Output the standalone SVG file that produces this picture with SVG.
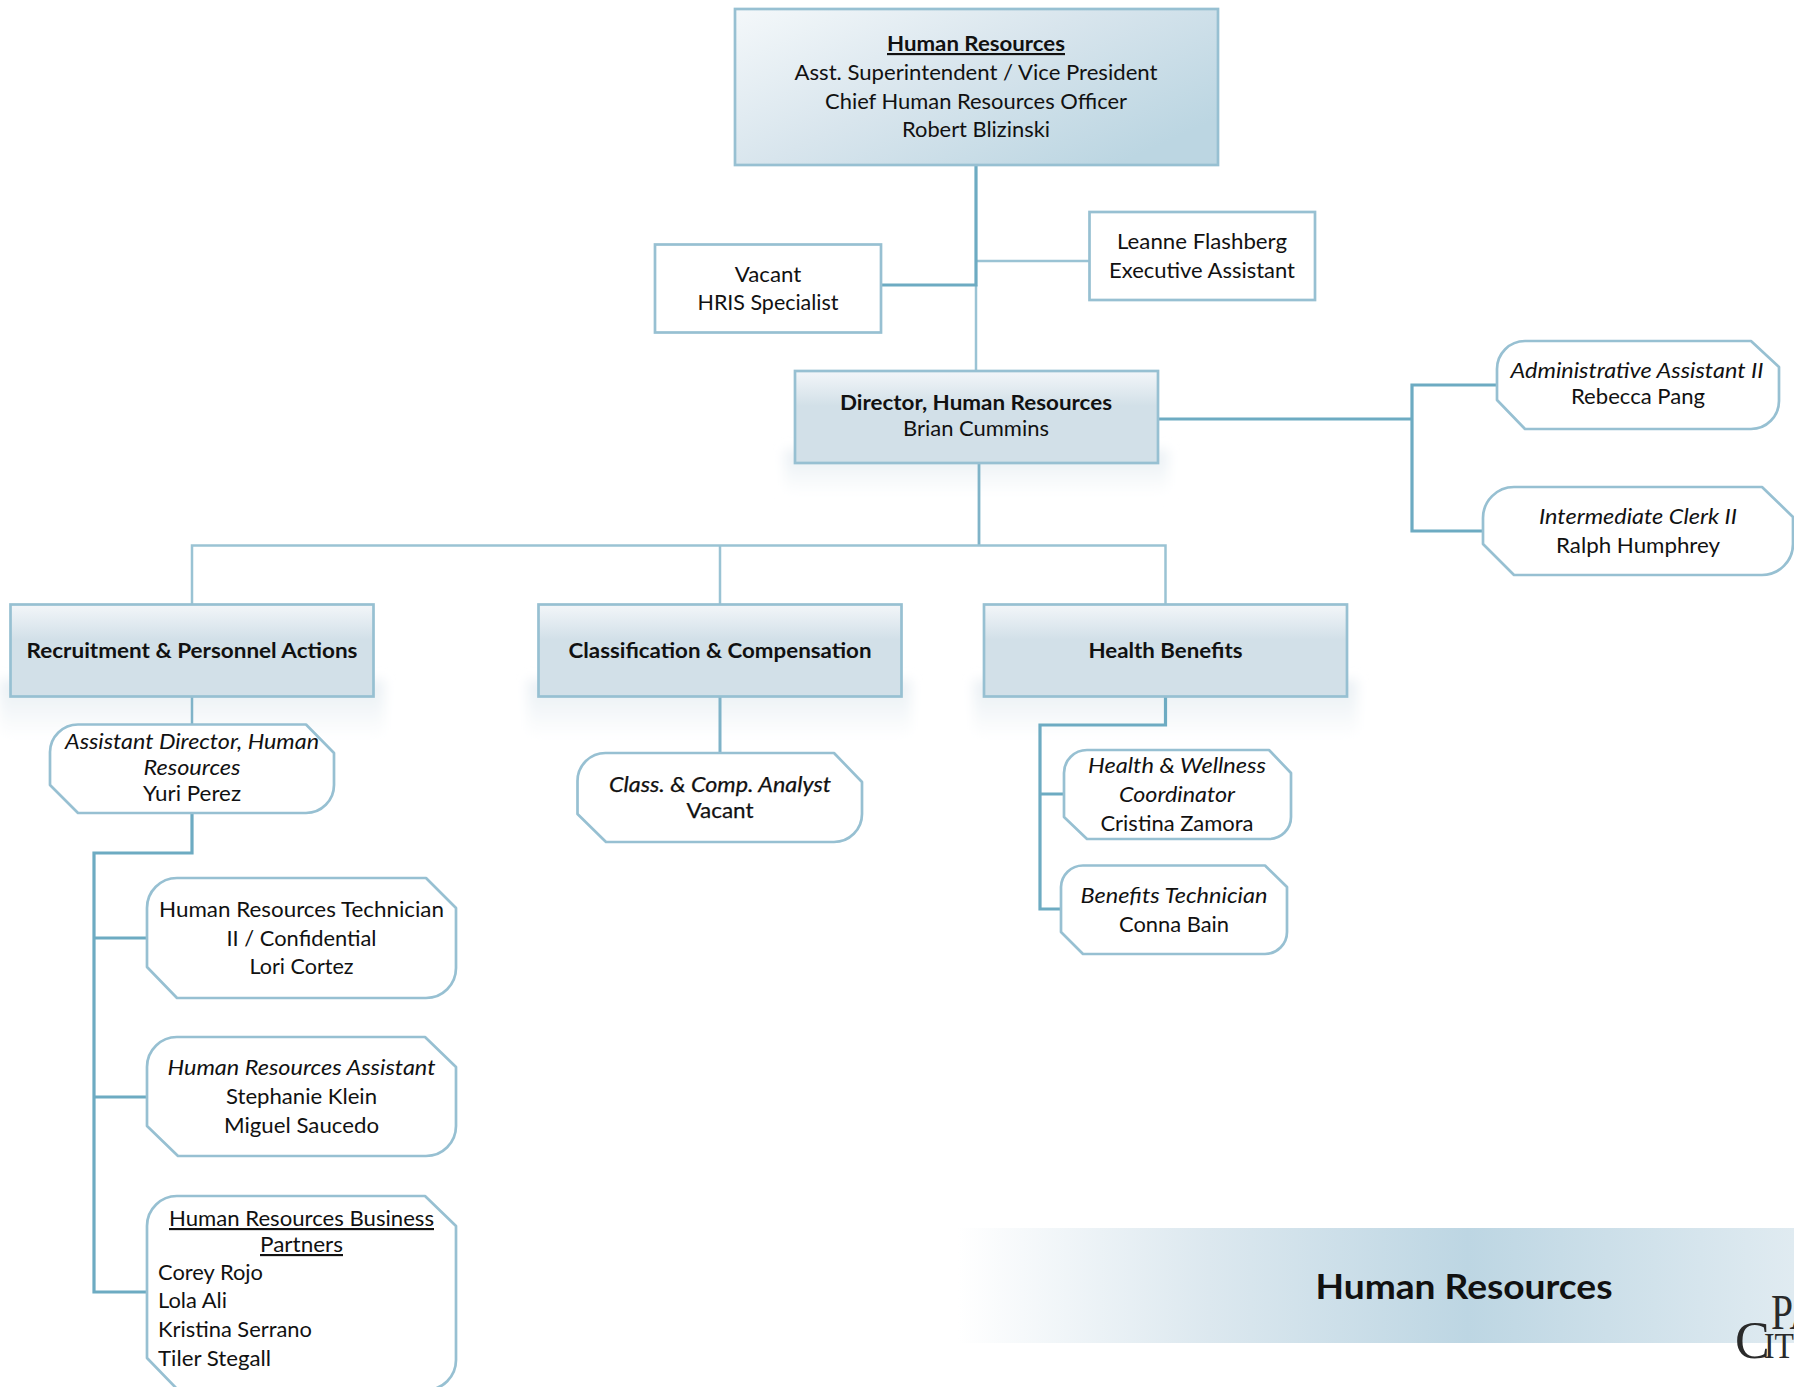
<svg xmlns="http://www.w3.org/2000/svg" width="1794" height="1387" viewBox="0 0 1794 1387">
<style>
text{font-family:"Lato","Carlito","Liberation Sans",sans-serif;font-size:21.5px;fill:#111;text-anchor:middle}
.b{font-weight:700}
.i{font-style:italic}
.u{text-decoration:underline}
.l{text-anchor:start}
.box{stroke:#97c0d2;stroke-width:2.7}
.plain{fill:#fff}
.node{fill:#fff;stroke:#97c0d2;stroke-width:2.7;stroke-linejoin:round}
.thin{stroke:#9ac3d4;stroke-width:2.5;fill:none}
.thick{stroke:#6dabc2;stroke-width:3.2;fill:none;stroke-linejoin:miter}
</style>
<defs>
<linearGradient id="gTop" x1="0" y1="0" x2="1" y2="0.7"><stop offset="0" stop-color="#f4f8fa"/><stop offset="0.5" stop-color="#d8e5ed"/><stop offset="1" stop-color="#bcd6e2"/></linearGradient>
<linearGradient id="gHead" x1="0" y1="0" x2="0" y2="1"><stop offset="0" stop-color="#f3f6f9"/><stop offset="0.38" stop-color="#d2e0e8"/><stop offset="1" stop-color="#d2e0e8"/></linearGradient>
<linearGradient id="gShadow" x1="0" y1="0" x2="0" y2="1"><stop offset="0" stop-color="#e9eff4"/><stop offset="0.3" stop-color="#eef3f6"/><stop offset="1" stop-color="#ffffff"/></linearGradient>
<linearGradient id="gBand" x1="958" y1="0" x2="1794" y2="0" gradientUnits="userSpaceOnUse"><stop offset="0" stop-color="#ffffff"/><stop offset="0.3" stop-color="#dce8ef"/><stop offset="0.61" stop-color="#bdd6e3"/><stop offset="1" stop-color="#e0ebf1"/></linearGradient>
<filter id="soft" x="-10%" y="-30%" width="120%" height="160%"><feGaussianBlur stdDeviation="6"/></filter>
</defs>

<g id="shadows" filter="url(#soft)">
<rect x="0" y="680" width="384" height="58" fill="url(#gShadow)"/>
<rect x="528" y="680" width="383" height="58" fill="url(#gShadow)"/>
<rect x="974" y="680" width="383" height="58" fill="url(#gShadow)"/>
<rect x="785" y="450" width="383" height="44" fill="url(#gShadow)"/>
</g>

<g id="banner">
<rect x="958" y="1228" width="836" height="115" fill="url(#gBand)"/>
<text class="b" x="1464" y="1299" style="font-size:34px" textLength="297" lengthAdjust="spacingAndGlyphs">Human Resources</text>
</g>
<g id="logo">
<text class="l" x="1771" y="1329" style="font-family:'Liberation Serif',serif;font-size:50px;fill:#2a2a2a" textLength="47" lengthAdjust="spacingAndGlyphs">PA</text>
<text class="l" x="1735" y="1358" style="font-family:'Liberation Serif',serif;font-size:52px;fill:#2a2a2a">C</text>
<text class="l" x="1764" y="1358" style="font-family:'Liberation Serif',serif;font-size:36px;fill:#2a2a2a" textLength="30" lengthAdjust="spacingAndGlyphs">IT</text>
</g>

<g id="connectors">
<path class="thin" d="M976 285V371"/>
<path class="thin" d="M976 261H1090"/>
<path class="thick" d="M976 165V285H881"/>
<path class="thick" d="M1158 419H1412M1497 385H1412V531H1483"/>
<path class="thick" style="stroke-width:2.800;stroke:#7fb3c8" d="M979 463V545"/>
<path class="thin" d="M192 604V545.500H1165.500V604M720 545.500V604"/>
<path class="thin" style="stroke:#7fb3c8" d="M192 696V724"/>
<path class="thin" style="stroke:#7fb3c8;stroke-width:3" d="M720 697V752"/>
<path class="thick" d="M1165.500 697V725H1040V909H1061M1040 794H1064"/>
<path class="thick" d="M192 813V853H94V1292H147M94 938H147M94 1097H147"/>
</g>

<g id="n-top">
<rect class="box" x="735" y="9" width="483" height="156" fill="url(#gTop)"/>
<text class="b u" x="976" y="51" textLength="178" lengthAdjust="spacingAndGlyphs">Human Resources</text>
<text x="976" y="80" textLength="363" lengthAdjust="spacingAndGlyphs">Asst. Superintendent / Vice President</text>
<text x="976" y="109" textLength="302" lengthAdjust="spacingAndGlyphs">Chief Human Resources Officer</text>
<text x="976" y="137" textLength="148" lengthAdjust="spacingAndGlyphs">Robert Blizinski</text>
</g>
<g id="n-leanne">
<rect class="box plain" x="1089.500" y="212" width="225.500" height="88"/>
<text x="1202" y="249" textLength="170" lengthAdjust="spacingAndGlyphs">Leanne Flashberg</text>
<text x="1202" y="278" textLength="186" lengthAdjust="spacingAndGlyphs">Executive Assistant</text>
</g>
<g id="n-vacant">
<rect class="box plain" x="655" y="244.500" width="226" height="88"/>
<text x="768" y="282" textLength="66.500" lengthAdjust="spacingAndGlyphs">Vacant</text>
<text x="768" y="310" textLength="141" lengthAdjust="spacingAndGlyphs">HRIS Specialist</text>
</g>
<g id="n-director">
<rect class="box" x="795" y="371" width="363" height="92" fill="url(#gHead)"/>
<text class="b" x="976" y="410" textLength="272" lengthAdjust="spacingAndGlyphs">Director, Human Resources</text>
<text x="976" y="436" textLength="146" lengthAdjust="spacingAndGlyphs">Brian Cummins</text>
</g>
<g id="n-admin">
<path class="node" d="M1525 341H1751L1779 367V401A28 28 0 0 1 1751 429H1525L1497 400V369A28 28 0 0 1 1525 341Z"/>
<text class="i" x="1637" y="378" textLength="253" lengthAdjust="spacingAndGlyphs">Administrative Assistant II</text>
<text x="1638" y="404" textLength="134" lengthAdjust="spacingAndGlyphs">Rebecca Pang</text>
</g>
<g id="n-clerk">
<path class="node" d="M1514 487H1762L1793 517V544A31 31 0 0 1 1762 575H1514L1483 544V518A31 31 0 0 1 1514 487Z"/>
<text class="i" x="1638" y="524" textLength="198" lengthAdjust="spacingAndGlyphs">Intermediate Clerk II</text>
<text x="1638" y="553" textLength="164" lengthAdjust="spacingAndGlyphs">Ralph Humphrey</text>
</g>
<g id="n-recruit">
<rect class="box" x="10.500" y="604.500" width="363" height="92" fill="url(#gHead)"/>
<text class="b" x="192" y="658" textLength="331" lengthAdjust="spacingAndGlyphs">Recruitment &amp; Personnel Actions</text>
</g>
<g id="n-class">
<rect class="box" x="538.500" y="604.500" width="363" height="92" fill="url(#gHead)"/>
<text class="b" x="720" y="658" textLength="303" lengthAdjust="spacingAndGlyphs">Classification &amp; Compensation</text>
</g>
<g id="n-health">
<rect class="box" x="984" y="604.500" width="363" height="92" fill="url(#gHead)"/>
<text class="b" x="1165.500" y="658" textLength="154" lengthAdjust="spacingAndGlyphs">Health Benefits</text>
</g>
<g id="n-asst">
<path class="node" d="M78 724.500H306L334 753V785A28 28 0 0 1 306 813H78L50 785V752A28 28 0 0 1 78 724.500Z"/>
<text class="i" x="192" y="749" textLength="254" lengthAdjust="spacingAndGlyphs">Assistant Director, Human</text>
<text class="i" x="192" y="775" textLength="97" lengthAdjust="spacingAndGlyphs">Resources</text>
<text x="192" y="801" textLength="98" lengthAdjust="spacingAndGlyphs">Yuri Perez</text>
</g>
<g id="n-analyst">
<path class="node" d="M606 753H834L862 782V814A28 28 0 0 1 834 842H606L577.500 814V781A28 28 0 0 1 606 753Z"/>
<text class="i b" x="720" y="792" textLength="222" lengthAdjust="spacingAndGlyphs" style="font-weight:400;stroke:#111;stroke-width:.25">Class. &amp; Comp. Analyst</text>
<text x="720" y="818" textLength="67" lengthAdjust="spacingAndGlyphs" style="stroke:#111;stroke-width:.25">Vacant</text>
</g>
<g id="n-wellness">
<path class="node" d="M1087 750H1269L1291 773V817A22 22 0 0 1 1269 839H1087L1064 817V773A23 23 0 0 1 1087 750Z"/>
<text class="i" x="1177" y="773" textLength="178" lengthAdjust="spacingAndGlyphs">Health &amp; Wellness</text>
<text class="i" x="1177" y="802" textLength="116" lengthAdjust="spacingAndGlyphs">Coordinator</text>
<text x="1177" y="831" textLength="153" lengthAdjust="spacingAndGlyphs">Cristina Zamora</text>
</g>
<g id="n-benefits">
<path class="node" d="M1083 865.500H1265L1287 887V932A22 22 0 0 1 1265 954H1083L1061 932V887A22 22 0 0 1 1083 865.500Z"/>
<text class="i" x="1174" y="903" textLength="187" lengthAdjust="spacingAndGlyphs">Benefits Technician</text>
<text x="1174" y="932" textLength="110" lengthAdjust="spacingAndGlyphs">Conna Bain</text>
</g>
<g id="n-tech">
<path class="node" d="M177 878H426L456 908V968A30 30 0 0 1 426 998H177L147 967V908A30 30 0 0 1 177 878Z"/>
<text x="301.500" y="917" textLength="285" lengthAdjust="spacingAndGlyphs">Human Resources Technician</text>
<text x="301.500" y="946" textLength="150" lengthAdjust="spacingAndGlyphs">II / Confidential</text>
<text x="301.500" y="974" textLength="104" lengthAdjust="spacingAndGlyphs">Lori Cortez</text>
</g>
<g id="n-hra">
<path class="node" d="M178 1037H425L456 1067V1126A30 30 0 0 1 426 1156H178L147 1126V1067A30 30 0 0 1 178 1037Z"/>
<text class="i" x="301.500" y="1075" textLength="268" lengthAdjust="spacingAndGlyphs">Human Resources Assistant</text>
<text x="301.500" y="1104" textLength="151" lengthAdjust="spacingAndGlyphs">Stephanie Klein</text>
<text x="301.500" y="1133" textLength="155" lengthAdjust="spacingAndGlyphs">Miguel Saucedo</text>
</g>
<g id="n-partners">
<path class="node" d="M178 1196H425L456 1226V1360A30 30 0 0 1 426 1390H178L147 1358V1226A30 30 0 0 1 178 1196Z"/>
<text class="u" x="301.500" y="1226" textLength="265" lengthAdjust="spacingAndGlyphs">Human Resources Business</text>
<text class="u" x="301.500" y="1252" textLength="83" lengthAdjust="spacingAndGlyphs">Partners</text>
<text class="l" x="158" y="1280" textLength="105" lengthAdjust="spacingAndGlyphs">Corey Rojo</text>
<text class="l" x="158" y="1308" textLength="69" lengthAdjust="spacingAndGlyphs">Lola Ali</text>
<text class="l" x="158" y="1337" textLength="154" lengthAdjust="spacingAndGlyphs">Kristina Serrano</text>
<text class="l" x="158" y="1366" textLength="113" lengthAdjust="spacingAndGlyphs">Tiler Stegall</text>
</g>
</svg>
